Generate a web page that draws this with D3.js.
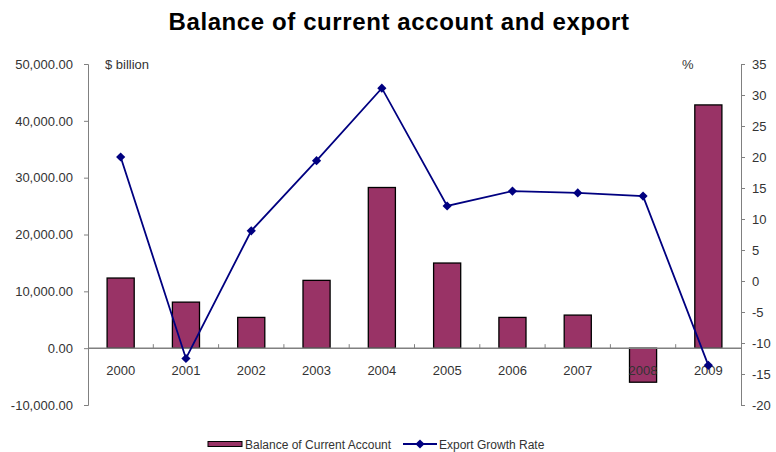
<!DOCTYPE html>
<html>
<head>
<meta charset="utf-8">
<script src="https://cdn.jsdelivr.net/npm/d3@7/dist/d3.min.js"></script>
<style>
  html, body { margin: 0; padding: 0; background: #fff; }
  svg { display: block; font-family: "Liberation Sans", Arial, sans-serif; }
</style>
</head>
<body>
<svg id="chart" width="776" height="452"></svg>
<script>
// Years on the category axis
const years = ["2000", "2001", "2002", "2003", "2004", "2005", "2006", "2007", "2008", "2009"];
// Balance of current account ($ billion)
const balance = [12340, 8100, 5410, 11930, 28270, 14980, 5410, 5820, -5990, 42800];
// Export growth rate (%)
const exportGrowth = [20.0, -12.5, 8.1, 19.4, 31.1, 12.1, 14.5, 14.2, 13.7, -13.6];
// Axis tick values
const leftTicks = [-10000, 0, 10000, 20000, 30000, 40000, 50000];
const rightTicks = [-20, -15, -10, -5, 0, 5, 10, 15, 20, 25, 30, 35];

const svg = d3.select("#chart");
const plotLeft = 88, plotRight = 741, plotTop = 64, plotBottom = 405;
const axisColor = "#808080", textColor = "#333";

// Plain hyphen for negative numbers
const locale = d3.formatLocale({ decimal: ".", thousands: ",", grouping: [3], currency: ["$", ""], minus: "-" });

const x = d3.scaleBand().domain(years).range([plotLeft, plotRight]);
const yL = d3.scaleLinear().domain([-10000, 50000]).range([plotBottom, plotTop]);
const yR = d3.scaleLinear().domain([-20, 35]).range([plotBottom, plotTop]);

// Title
svg.append("text")
  .attr("x", 399).attr("y", 30)
  .attr("text-anchor", "middle")
  .style("font-size", "24px").style("font-weight", "bold")
  .style("letter-spacing", "0.6px")
  .attr("fill", "#000")
  .text("Balance of current account and export");

// Bars
const barW = x.bandwidth() * 0.415;
svg.append("g").selectAll("rect").data(balance).join("rect")
  .attr("x", (d, i) => x(years[i]) + (x.bandwidth() - barW) / 2)
  .attr("y", d => yL(Math.max(0, d)))
  .attr("width", barW)
  .attr("height", d => Math.abs(yL(d) - yL(0)))
  .attr("fill", "#993366")
  .attr("stroke", "#000").attr("stroke-width", 1.3);

// Left axis
const leftAxis = d3.axisLeft(yL).tickValues(leftTicks).tickSize(4).tickPadding(11)
  .tickFormat(locale.format(",.2f"));
const gL = svg.append("g").attr("transform", `translate(${plotLeft},0)`).call(leftAxis);
gL.select(".domain").attr("stroke", axisColor);
gL.selectAll(".tick line").attr("stroke", axisColor);
gL.selectAll("text").attr("fill", textColor).style("font-size", "13px").style("font-family", "Liberation Sans, Arial, sans-serif");

// Right axis
const rightAxis = d3.axisRight(yR).tickValues(rightTicks).tickSize(4).tickPadding(7)
  .tickFormat(locale.format("d"));
const gR = svg.append("g").attr("transform", `translate(${plotRight},0)`).call(rightAxis);
gR.select(".domain").attr("stroke", axisColor);
gR.selectAll(".tick line").attr("stroke", axisColor);
gR.selectAll("text").attr("fill", textColor).style("font-size", "13px").style("font-family", "Liberation Sans, Arial, sans-serif");

// Category axis along zero of the balance scale
const gX = svg.append("g");
gX.append("line")
  .attr("x1", plotLeft).attr("x2", plotRight)
  .attr("y1", yL(0)).attr("y2", yL(0))
  .attr("stroke", axisColor).attr("stroke-width", 1.5);
gX.selectAll("line.tk").data(years.slice(1)).join("line").attr("class", "tk")
  .attr("x1", d => x(d)).attr("x2", d => x(d))
  .attr("y1", yL(0) - 4).attr("y2", yL(0))
  .attr("stroke", axisColor);
gX.selectAll("text").data(years).join("text")
  .attr("x", d => x(d) + x.bandwidth() / 2)
  .attr("y", yL(0) + 27)
  .attr("text-anchor", "middle")
  .attr("fill", textColor)
  .style("font-size", "13px")
  .text(d => d);

// Export growth line
const line = d3.line()
  .x((d, i) => x(years[i]) + x.bandwidth() / 2)
  .y(d => yR(d));
svg.append("path").datum(exportGrowth)
  .attr("d", line)
  .attr("fill", "none")
  .attr("stroke", "#000080").attr("stroke-width", 1.8);

// Square diamond marker
const diamond = "M0,-4.6L4.6,0L0,4.6L-4.6,0Z";
svg.append("g").selectAll("path").data(exportGrowth).join("path")
  .attr("transform", (d, i) => `translate(${x(years[i]) + x.bandwidth() / 2},${yR(d)})`)
  .attr("d", diamond)
  .attr("fill", "#000080");

// Unit labels
svg.append("text").attr("x", 105).attr("y", 69)
  .attr("fill", textColor).style("font-size", "13px").text("$ billion");
svg.append("text").attr("x", 682).attr("y", 69)
  .attr("fill", textColor).style("font-size", "13px").text("%");

// Legend
const lg = svg.append("g");
lg.append("rect").attr("x", 208).attr("y", 441.5).attr("width", 34).attr("height", 5)
  .attr("fill", "#993366").attr("stroke", "#000").attr("stroke-width", 1);
lg.append("text").attr("x", 245).attr("y", 448.5)
  .attr("fill", textColor).style("font-size", "12px").text("Balance of Current Account");
lg.append("line").attr("x1", 403).attr("x2", 437).attr("y1", 444).attr("y2", 444)
  .attr("stroke", "#000080").attr("stroke-width", 1.8);
lg.append("path").attr("transform", "translate(420,444)").attr("d", diamond).attr("fill", "#000080");
lg.append("text").attr("x", 439).attr("y", 448.5)
  .attr("fill", textColor).style("font-size", "12px").text("Export Growth Rate");
</script>
</body>
</html>
